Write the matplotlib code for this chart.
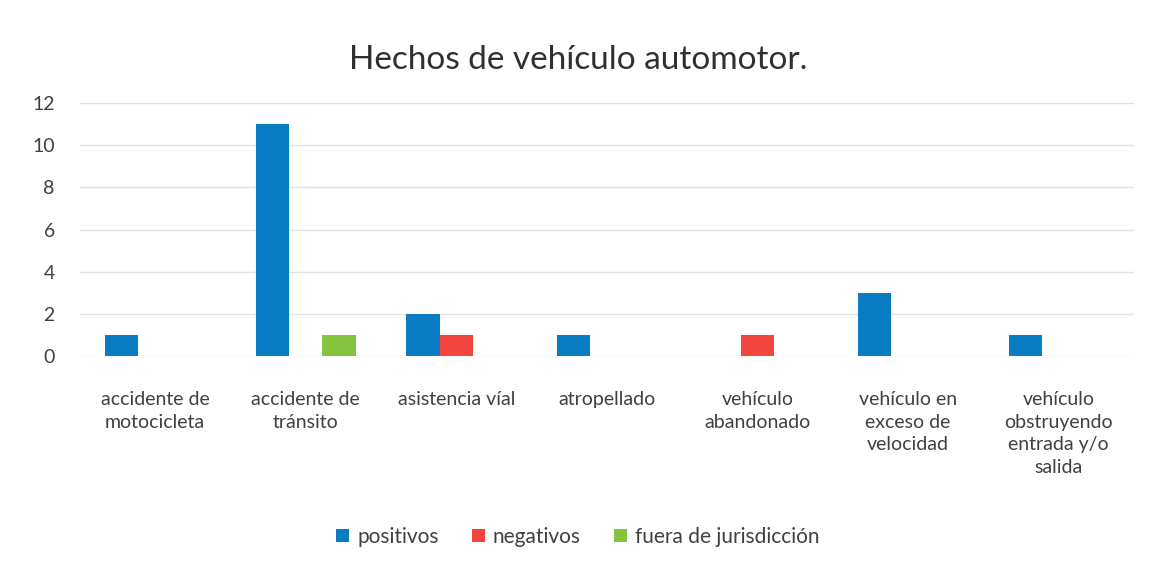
import numpy as np
import matplotlib.pyplot as plt

plt.rcParams['font.family'] = ['Lato', 'DejaVu Sans']

categorias = ['accidente de\nmotocicleta', 'accidente de\ntránsito', 'asistencia víal',
              'atropellado', 'vehículo\nabandonado', 'vehículo en\nexceso de\nvelocidad',
              'vehículo\nobstruyendo\nentrada y/o\nsalida']
positivos = [1, 11, 2, 1, 0, 3, 1]
negativos = [0, 0, 1, 0, 1, 0, 0]
fuera = [0, 1, 0, 0, 0, 0, 0]
series = ['positivos', 'negativos', 'fuera de jurisdicción']
colores = ['#0a7cc4', '#f2453f', '#86c440']

fig = plt.figure(figsize=(11.56, 5.76), dpi=100)
ax = fig.add_axes([0.069, 0.382, 0.912, 0.439])

x = np.arange(len(categorias))
w = 0.222
for i, (vals, nom, col) in enumerate(zip([positivos, negativos, fuera], series, colores)):
    ax.bar(x + (i - 1) * w, vals, w, color=col, label=nom, zorder=3)

ax.set_xlim(-0.5, len(categorias) - 0.5)
ax.set_ylim(0, 12)
ax.set_yticks(range(0, 13, 2))
ax.grid(axis='y', color='#e3e3e3', linewidth=1, zorder=0)
for s in ax.spines.values():
    s.set_visible(False)
ax.tick_params(axis='y', length=0, labelsize=14, colors='#404040', pad=18)
ax.tick_params(axis='x', length=0, labelsize=14, colors='#404040', pad=25)
ax.set_xticks(x)
ax.set_xticklabels(categorias, linespacing=1.42, va='top')

fig.text(0.5, 0.895, 'Hechos de vehículo automotor.', ha='center', va='center',
         fontsize=24, color='#303030')

fig.legend(loc='center', bbox_to_anchor=(0.5, 0.068), ncol=3, frameon=False,
           fontsize=15, handlelength=0.6, handleheight=0.6, handletextpad=0.4,
           columnspacing=1.6, labelcolor='#404040')

fig.savefig('out.png', dpi=100, facecolor='white')
